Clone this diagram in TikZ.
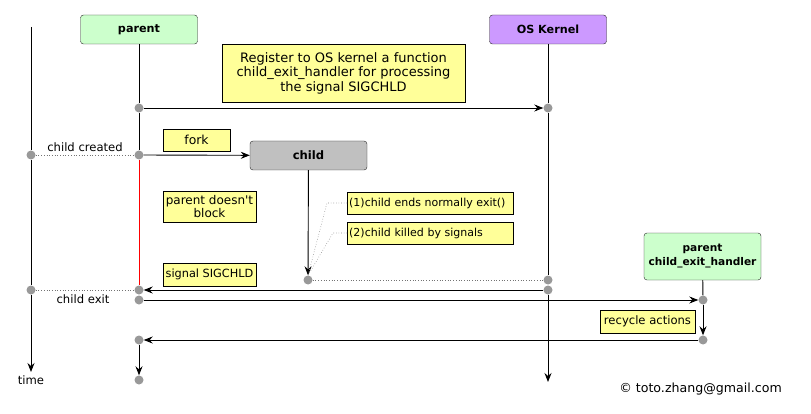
\documentclass[tikz,border=0pt]{standalone}
\usepackage{fontspec}
\setmainfont{DejaVu Sans}
\usetikzlibrary{arrows.meta}
\definecolor{pgreen}{HTML}{CCFFCC}
\definecolor{kpurple}{HTML}{CC99FF}
\definecolor{cgray}{HTML}{C0C0C0}
\definecolor{nyellow}{HTML}{FFFF99}
\definecolor{dotgray}{HTML}{999999}
\tikzset{
  actor/.style={draw=black!85, rounded corners=3pt, minimum width=117pt, minimum height=29pt, font=\fontsize{11.2}{13}\selectfont\bfseries, align=center, inner sep=1pt},
  notebox/.style={draw=black, fill=nyellow, font=\fontsize{11.8}{13.5}\selectfont, align=center, inner sep=1pt},
  pt/.style={circle, fill=dotgray, inner sep=0pt, minimum size=9pt},
  msg/.style={-{Stealth[length=9pt,width=7pt,inset=3pt]}, line width=0.9pt},
  life/.style={line width=0.9pt},
  dots/.style={dotted, draw=black!55, line width=0.7pt},
  lbl/.style={font=\fontsize{11.6}{13}\selectfont, inner sep=1pt}
}
\begin{document}
\begin{tikzpicture}[x=1pt,y=-1pt]
\useasboundingbox (0,0) rectangle (811,414);
% actors
\node[actor, fill=pgreen] (parent) at (139,29.5) {parent};
\node[actor, fill=kpurple] (kernel) at (548,29.5) {OS Kernel};
\node[actor, fill=cgray, font=\fontsize{11.6}{13}\selectfont\bfseries] (child) at (308.5,155.5) {child};
\node[actor, fill=pgreen, minimum height=47pt, font=\fontsize{10.6}{14}\selectfont\bfseries] (handler) at (702.5,256.5) {parent\\child\_exit\_handler};
% points
\node[pt] (p1) at (139,108) {};
\node[pt] (k1) at (548,108) {};
\node[pt] (t1) at (31,155) {};
\node[pt] (p2) at (139,155) {};
\node[pt] (c1) at (308,280) {};
\node[pt] (k2) at (548,280) {};
\node[pt] (t2) at (31,290) {};
\node[pt] (p3) at (139,290) {};
\node[pt] (k3) at (548,290) {};
\node[pt] (p4) at (139,300) {};
\node[pt] (h1) at (703,300) {};
\node[pt] (h2) at (703,340) {};
\node[pt] (p5) at (139,340) {};
\node[pt] (p6) at (139,380) {};
\coordinate (ttop) at (31,27);
\coordinate (tend) at (31,372);
\coordinate (kend) at (548,382);
% time line
\draw[life] (ttop) -- (t1);
\draw[life] (t1) -- (t2);
\draw[msg] (t2) -- (tend);
\node[lbl] (time) at (31,380) {time};
% parent lifeline
\draw[life] (parent) -- (p1);
\draw[life] (p1) -- (p2);
\draw[line width=0.9pt, red] (p2) -- (p3);
\draw[msg] (p5) -- (p6);
% kernel lifeline
\draw[life] (kernel) -- (k1);
\draw[life] (k1) -- (k2);
\draw[msg] (k3) -- (kend);
% child lifeline
\draw[msg] (child) -- (c1);
% handler
\draw[life] (handler) -- (h1);
\draw[msg] (h1) -- (h2);
% messages
\draw[msg] (p1) -- (k1);
\draw[msg] (p2) -- (child);
\draw[dots] (t1) -- node[lbl, above=1.5pt] (ccl) {child created} (p2);
\draw[dots] (c1) -- (k2);
\draw[msg] (k3) -- (p3);
\draw[dots] (t2) -- (p3);
\node[lbl] (cex) at (83,299) {child exit};
\draw[msg] (p4) -- (h1);
\draw[msg] (h2) -- (p5);
% notes
\node[notebox, minimum width=243pt, minimum height=58pt, font=\fontsize{13}{14.5}\selectfont] (reg) at (343.5,73) {Register to OS kernel a function\\child\_exit\_handler for processing\\the signal SIGCHLD};
\node[notebox, minimum width=67pt, minimum height=22pt, font=\fontsize{12.4}{14}\selectfont] (fork) at (196.5,140) {fork};
\node[notebox, minimum width=93pt, minimum height=31pt, font=\fontsize{12}{13.5}\selectfont] (nb) at (209.5,206.5) {parent doesn\textquotesingle t\\block};
\node[notebox, minimum width=93pt, minimum height=23pt, font=\fontsize{11.3}{13}\selectfont] (sig) at (209.5,274.5) {signal SIGCHLD};
\node[notebox, minimum width=166pt, minimum height=22pt, align=left, anchor=west, text width=162pt, inner xsep=2pt, font=\fontsize{11}{12}\selectfont] (n1) at (347,203) {(1)child ends normally exit()};
\node[notebox, minimum width=166pt, minimum height=22pt, align=left, anchor=west, text width=162pt, inner xsep=2pt, font=\fontsize{11}{12}\selectfont] (n2) at (347,233) {(2)child killed by signals};
\node[notebox, minimum width=95pt, minimum height=23pt, font=\fontsize{11.6}{13}\selectfont] (rec) at (647.5,321.5) {recycle actions};
\draw[dotted, draw=black!45, line width=0.6pt] (n1.west) -- (327,203) -- (c1.north);
\draw[dotted, draw=black!45, line width=0.6pt] (n2.west) -- (333,233) -- (c1.north);
\node[lbl, anchor=east, font=\fontsize{12.6}{14}\selectfont] (copy) at (783,389) {© toto.zhang@gmail.com};
\end{tikzpicture}
\end{document}
